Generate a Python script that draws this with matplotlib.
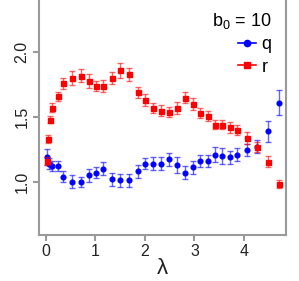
import matplotlib
matplotlib.use("Agg")
import matplotlib.pyplot as plt
from matplotlib.lines import Line2D

plt.rcParams['font.family'] = ['Liberation Sans', 'DejaVu Sans']
plt.rcParams['mathtext.fontset'] = 'custom'
plt.rcParams['mathtext.rm'] = 'Liberation Sans'
plt.rcParams['mathtext.it'] = 'Liberation Sans'

x_r = [0.03, 0.05, 0.08, 0.13, 0.24, 0.35, 0.52, 0.70, 0.87, 1.01, 1.15, 1.33, 1.50, 1.68, 1.86, 2.01,
       2.17, 2.32, 2.48, 2.64, 2.81, 2.97, 3.12, 3.27, 3.41, 3.56, 3.71, 3.86, 4.06, 4.27, 4.48, 4.70]
r = [1.16, 1.33, 1.48, 1.57, 1.66, 1.76, 1.80, 1.82, 1.78, 1.74, 1.74, 1.80, 1.86, 1.83, 1.69, 1.63,
     1.57, 1.55, 1.54, 1.57, 1.65, 1.60, 1.53, 1.51, 1.44, 1.44, 1.42, 1.40, 1.34, 1.27, 1.155, 0.98]
r_err = [0.03, 0.03, 0.03, 0.035, 0.035, 0.04, 0.055, 0.05, 0.055, 0.04, 0.045, 0.045, 0.06, 0.05, 0.045, 0.045,
         0.04, 0.045, 0.04, 0.045, 0.04, 0.045, 0.04, 0.04, 0.035, 0.035, 0.04, 0.04, 0.045, 0.04, 0.04, 0.03]

x_q = [0.03, 0.06, 0.12, 0.24, 0.35, 0.52, 0.70, 0.87, 1.01, 1.15, 1.33, 1.50, 1.68, 1.86, 2.01, 2.17,
       2.32, 2.48, 2.64, 2.81, 2.97, 3.12, 3.27, 3.41, 3.56, 3.71, 3.86, 4.06, 4.27, 4.48, 4.70]
q = [1.19, 1.14, 1.12, 1.12, 1.04, 1.00, 1.00, 1.05, 1.07, 1.10, 1.02, 1.01, 1.01, 1.08, 1.14, 1.14,
     1.14, 1.175, 1.13, 1.07, 1.11, 1.16, 1.16, 1.21, 1.20, 1.19, 1.21, 1.245, 1.27, 1.39, 1.61]
q_err = [0.06, 0.04, 0.04, 0.04, 0.04, 0.05, 0.04, 0.05, 0.04, 0.05, 0.05, 0.05, 0.05, 0.05, 0.04, 0.05,
         0.05, 0.05, 0.06, 0.05, 0.05, 0.05, 0.05, 0.06, 0.06, 0.05, 0.05, 0.05, 0.05, 0.08, 0.095]

x_ticks = [0, 1, 2, 3, 4]
y_ticks = [1.0, 1.5, 2.0]
legend_title = "b$_0$ = 10"
labels = ["q", "r"]

fig = plt.figure(figsize=(2.99, 2.81), dpi=100)
ax = fig.add_axes([39/299, 1 - 235/281, (286-39)/299, 235/281])

ax.errorbar(x_q, q, yerr=q_err, fmt='none', ecolor=(0, 0, 1, 0.6), elinewidth=1.0, capsize=2.5, capthick=1.0)
ax.plot(x_q, q, 'o', color='blue', markersize=3.4, linestyle='none')
ax.errorbar(x_r, r, yerr=r_err, fmt='none', ecolor=(1, 0, 0, 0.6), elinewidth=1.0, capsize=2.5, capthick=1.0)
ax.plot(x_r, r, 's', color='red', markersize=3.6, linestyle='none')

ax.set_xlim(-0.14, 4.85)
ax.set_ylim(0.588, 2.404)
ax.set_xticks(x_ticks)
ax.set_xticklabels([str(v) for v in x_ticks])
ax.set_yticks(y_ticks)
ax.set_yticklabels(["%.1f" % v for v in y_ticks], rotation=90, va='center')

gray = '#9a9a9a'
for s in ['left', 'bottom', 'right']:
    ax.spines[s].set_color(gray)
    ax.spines[s].set_linewidth(1.5)
ax.spines['top'].set_visible(False)
ax.tick_params(axis='both', colors=gray, labelcolor='#222222', labelsize=11.5, length=4, width=1.5, direction='out')
ax.tick_params(axis='y', pad=3)
ax.tick_params(axis='x', pad=2.5)
ax.set_xlabel("λ", fontsize=16, color='#222222', labelpad=-1)

handles = [Line2D([], [], color='blue', marker='o', markersize=4.5, linewidth=1.2),
           Line2D([], [], color='red', marker='s', markersize=4.5, linewidth=1.2)]
leg = ax.legend(handles, labels, title=legend_title, loc='upper right', bbox_to_anchor=(0.985, 1.0),
                frameon=False, fontsize=13, title_fontsize=13, handlelength=1.0, handletextpad=0.3,
                labelspacing=0.3, borderaxespad=0.2, alignment='right')

fig.savefig("out.png", dpi=100)
